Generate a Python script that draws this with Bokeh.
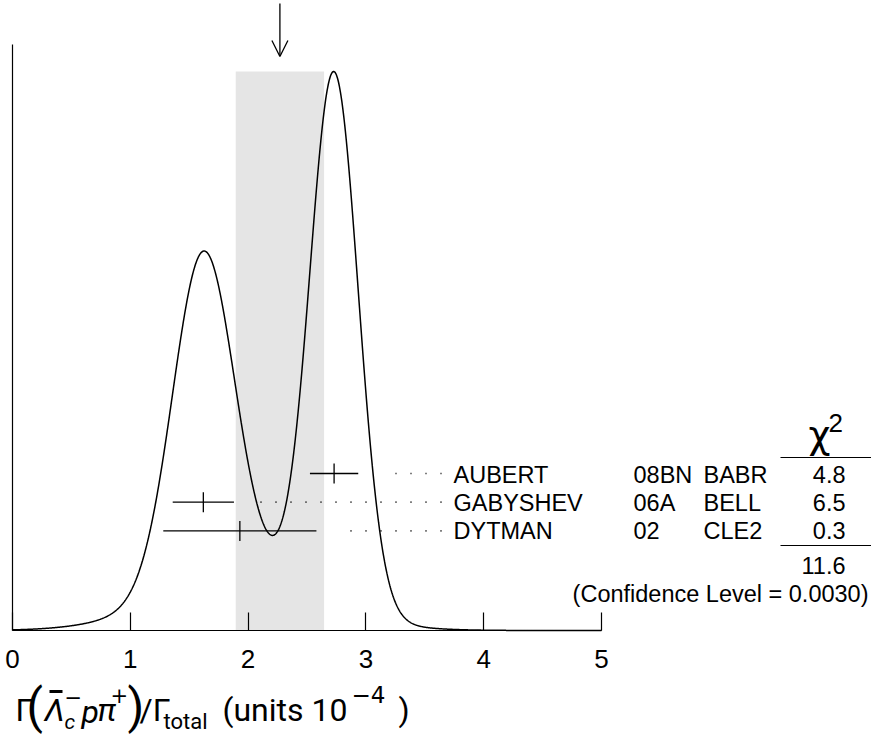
import numpy as np
from bokeh.plotting import figure
from bokeh.models import LinearAxis, FixedTicker, Range1d, Arrow, OpenHead
from bokeh.core.properties import value
from bokeh.embed import file_html
from bokeh.resources import INLINE

# ---------------- data ----------------
names = ["AUBERT", "GABYSHEV", "DYTMAN"]
codes = ["08BN", "06A", "02"]
experiments = ["BABR", "BELL", "CLE2"]
values = [2.73, 1.62, 1.93]
errors = [0.205, 0.26, 0.65]
chi2 = ["4.8", "6.5", "0.3"]
chi2_total = "11.6"
confidence = "(Confidence Level = 0.0030)"
fit_value = 2.27
fit_error = 0.375
xticks = [0, 1, 2, 3, 4, 5]
x_lo, x_hi = 0, 5

# ---------------- layout (page pixels) ----------------
W, H = 871, 736
X0_PAGE = 12.0
UNIT = 117.8
AXIS_PAGE = 630.0
PEAK_PAGE = 71.0

# ideogram: each measurement is a Gaussian with area proportional to 1/sigma
xs = np.linspace(x_lo, x_hi, 1201)
ideo = np.zeros_like(xs)
for v, e in zip(values, errors):
    ideo += (1.0 / e**2) * np.exp(-0.5 * ((xs - v) / e) ** 2)
ymax = float(ideo.max())
yscale = (AXIS_PAGE - PEAK_PAGE) / ymax


def dx(page_x):
    return (page_x - X0_PAGE) / UNIT


def dy(page_y):
    return (AXIS_PAGE - page_y) / yscale


p = figure(width=W, height=H,
           x_range=Range1d(dx(0), dx(W)),
           y_range=Range1d(dy(H), dy(0)),
           x_axis_type=None, y_axis_type=None,
           toolbar_location=None, output_backend="svg",
           min_border=0, outline_line_color=None)
p.xgrid.visible = False
p.ygrid.visible = False

# x axis drawn at y = 0
xaxis = LinearAxis(fixed_location=0, bounds=(x_lo, x_hi),
                   ticker=FixedTicker(ticks=xticks),
                   major_tick_in=18, major_tick_out=0,
                   minor_tick_line_color=None,
                   axis_line_width=1.2, major_tick_line_width=1.2,
                   major_label_text_font="Liberation Sans",
                   major_label_text_font_size="26px",
                   major_label_text_color="black",
                   major_label_standoff=19)
p.add_layout(xaxis, "below")

# left vertical line
yaxis = LinearAxis(fixed_location=0, bounds=(0, dy(44)),
                   ticker=FixedTicker(ticks=[]),
                   major_tick_line_color=None, minor_tick_line_color=None,
                   major_label_text_color=None, axis_line_width=1.2)
p.add_layout(yaxis, "left")

# shaded band (fit value +- error)
p.quad(left=[fit_value - fit_error], right=[fit_value + fit_error],
       bottom=[0], top=[ymax], fill_color="#e5e5e5", line_color=None)

# ideogram curve
p.line(xs, ideo, line_color="black", line_width=1.5)

# arrow marking the fit value
p.add_layout(Arrow(end=OpenHead(size=16, line_width=1.3, line_color="black"),
                   x_start=fit_value, y_start=dy(3), x_end=fit_value, y_end=dy(56),
                   line_width=1.3, line_color="black"))

# measurement rows
n = len(names)
bar_rows = [dy(473 + 28.7 * i) for i in range(n)]
txt_rows = [dy(474 + 28.2 * i) for i in range(n)]
lo = [v - e for v, e in zip(values, errors)]
hi = [v + e for v, e in zip(values, errors)]
half_tick = 10 / yscale

p.segment(x0=lo, x1=hi, y0=bar_rows, y1=bar_rows, line_color="black", line_width=1.3)
p.segment(x0=values, x1=values,
          y0=[r - half_tick for r in bar_rows], y1=[r + half_tick for r in bar_rows],
          line_color="black", line_width=1.3)

# dotted leaders, drawn from the label side so the dots line up
dot_end = dx(441)
dot_start = [h + 25 / UNIT for h in hi]
p.segment(x0=[dot_end] * n, x1=dot_start, y0=bar_rows, y1=bar_rows,
          line_color="black", line_width=1.7, line_dash="1 14")

font = value("Liberation Sans")
fs = "23.5px"
MID = "middle"
p.text(x=[dx(453)] * n, y=txt_rows, text=names, text_font=font, text_font_size=fs,
       text_align="left", text_baseline=MID, text_color="black")
p.text(x=[dx(633)] * n, y=txt_rows, text=codes, text_font=font, text_font_size=fs,
       text_align="left", text_baseline=MID, text_color="black")
p.text(x=[dx(703)] * n, y=txt_rows, text=experiments, text_font=font, text_font_size=fs,
       text_align="left", text_baseline=MID, text_color="black")
p.text(x=[dx(845)] * n, y=txt_rows, text=chi2, text_font=font, text_font_size=fs,
       text_align="right", text_baseline=MID, text_color="black")

# chi^2 header and rules
p.text(x=[dx(819)], y=[dy(434)], text=["χ"], text_font=value("DejaVu Sans"),
       text_font_size="38px", text_align="center", text_baseline=MID,
       text_color="black")
p.text(x=[dx(828)], y=[dy(422)], text=["2"], text_font=font, text_font_size="26px",
       text_align="left", text_baseline=MID, text_color="black")
p.segment(x0=[dx(780), dx(780)], x1=[dx(871), dx(871)],
          y0=[dy(457), dy(545)], y1=[dy(457), dy(545)],
          line_color="black", line_width=1.2)
p.text(x=[dx(845)], y=[dy(565)], text=[chi2_total], text_font=font, text_font_size=fs,
       text_align="right", text_baseline=MID, text_color="black")
p.text(x=[dx(868)], y=[dy(593)], text=[confidence], text_font=font, text_font_size=fs,
       text_align="right", text_baseline=MID, text_color="black")

# x-axis title built from pieces: Γ(Λ̄c⁻ pπ⁺)/Γtotal (units 10⁻⁴)
RB = value("Roboto")
DJ = value("DejaVu Sans")
pieces = [
    ("Γ", 15, 709, "32px", "normal", RB),
    ("(", 26, 706, "48px", "normal", RB),
    ("Λ", 44, 709, "32px", "italic", RB),
    ("c", 64, 721, "21px", "italic", RB),
    ("−", 64, 696, "21px", "normal", DJ),
    ("p", 81, 711, "32px", "italic", RB),
    ("π", 97, 709, "32px", "italic", RB),
    ("+", 110, 694, "21px", "normal", DJ),
    (")", 127, 706, "48px", "normal", RB),
    ("/Γ", 139, 709, "32px", "normal", RB),
    ("total", 163, 721, "22px", "normal", RB),
    ("(units 10", 222, 709, "32px", "normal", RB),
    ("−4", 351, 694, "23px", "normal", DJ),
    (")", 398, 709, "32px", "normal", RB),
]
for t, x0, yc, sz, st, fnt in pieces:
    p.text(x=[dx(x0)], y=[dy(yc)], text=[t], text_font=fnt, text_font_size=sz,
           text_font_style=st, text_align="left", text_baseline=MID,
           text_color="black")
# bar over Λ
p.segment(x0=[dx(49)], x1=[dx(62)], y0=[dy(691)], y1=[dy(691)],
          line_color="black", line_width=3)

open("out.html", "w").write(file_html(p, INLINE))
